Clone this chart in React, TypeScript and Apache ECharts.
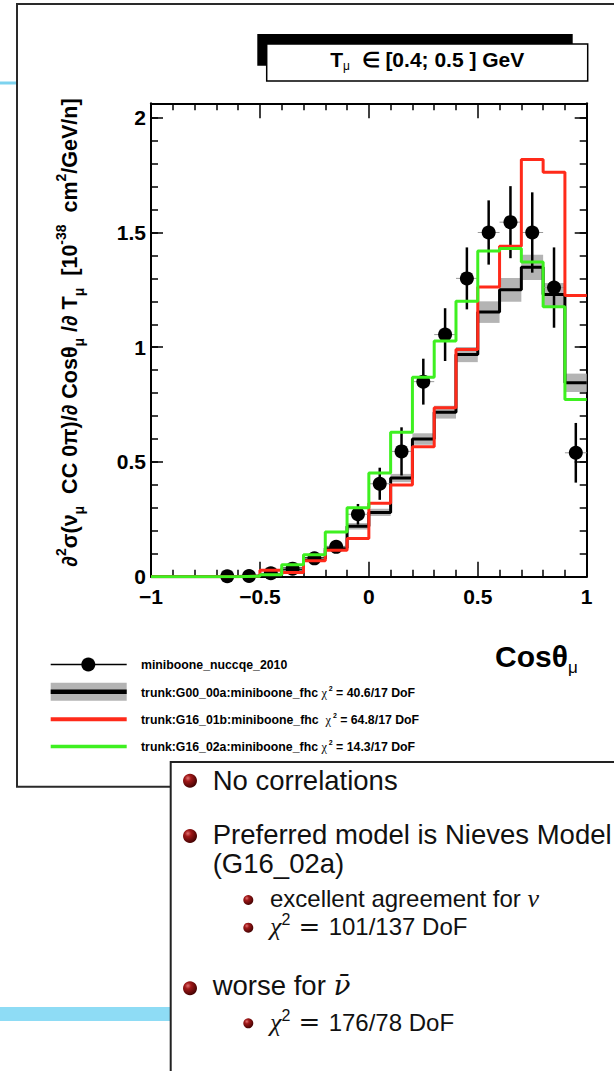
import React, { useEffect, useRef } from 'react';
import * as echarts from 'echarts';

// ---------- data ----------
const binEdges = [-1.0, -0.9, -0.8, -0.7, -0.6, -0.5, -0.4, -0.3, -0.2, -0.1, 0.0, 0.1, 0.2, 0.3, 0.4, 0.5, 0.6, 0.7, 0.8, 0.9, 1.0];

// G00_00a (black, with grey error band)
const g00Values = [0, 0, 0, 0.001, 0.003, 0.01, 0.034, 0.078, 0.125, 0.22, 0.28, 0.43, 0.6, 0.717, 0.968, 1.153, 1.25, 1.348, 1.23, 0.845];
const g00Errors = [0, 0, 0, 0.001, 0.002, 0.004, 0.006, 0.008, 0.01, 0.014, 0.016, 0.018, 0.025, 0.028, 0.033, 0.047, 0.052, 0.055, 0.05, 0.04];
// G16_01b (red)
const g1601bValues = [0, 0, 0, 0, 0.003, 0.028, 0.018, 0.07, 0.115, 0.167, 0.32, 0.4, 0.566, 0.736, 0.99, 1.263, 1.44, 1.818, 1.763, 1.225];
// G16_02a (green)
const g1602aValues = [0, 0, 0, 0, 0.002, 0.008, 0.052, 0.096, 0.195, 0.3, 0.452, 0.629, 0.869, 1.027, 1.2, 1.419, 1.43, 1.371, 1.176, 0.772];

// miniboone_nuccqe_2010 data
const dataX = [-0.65, -0.55, -0.45, -0.35, -0.25, -0.15, -0.05, 0.05, 0.15, 0.25, 0.35, 0.45, 0.55, 0.65, 0.75, 0.85, 0.95];
const dataY = [0.002, 0.003, 0.015, 0.035, 0.08, 0.13, 0.272, 0.405, 0.546, 0.85, 1.055, 1.3, 1.5, 1.545, 1.5, 1.26, 0.54];
const dataErr = [0.003, 0.004, 0.006, 0.01, 0.015, 0.02, 0.045, 0.07, 0.105, 0.1, 0.115, 0.135, 0.14, 0.157, 0.175, 0.175, 0.13];
const DATA_HALF_BIN = 0.05;

const xTickLabels = ['−1', '−0.5', '0', '0.5', '1'];
const yTickLabels = ['0', '0.5', '1', '1.5', '2'];

const SANS = '"Liberation Sans", Arial, Helvetica, sans-serif';
const SERIF = '"Liberation Serif", "DejaVu Serif", serif';

function stepData(vals: number[]) {
  const pts: number[][] = vals.map((v, i) => [binEdges[i], v]);
  pts.push([binEdges[binEdges.length - 1], vals[vals.length - 1]]);
  return pts;
}

function bullet(cx: number, cy: number, r: number) {
  return {
    type: 'circle',
    shape: { cx, cy, r },
    style: {
      fill: new echarts.graphic.RadialGradient(0.35, 0.32, 0.75, [
        { offset: 0, color: '#e07070' },
        { offset: 0.3, color: '#a01818' },
        { offset: 1, color: '#3a0000' },
      ]),
    },
  };
}

function buildOption() {
  const axisCommon = (extra: any) => ({
    type: 'value',
    axisLine: { show: true, onZero: false, lineStyle: { color: '#000', width: 2 } },
    splitLine: { show: false },
    minorSplitLine: { show: false },
    ...extra,
  });

  const xLabelFmt = (v: number) => {
    const idx = Math.round((v + 1) / 0.5);
    if (Math.abs(v + 1 - idx * 0.5) > 1e-6) return '';
    return xTickLabels[idx] ?? '';
  };
  const yLabelFmt = (v: number) => {
    const idx = Math.round(v / 0.5);
    if (Math.abs(v - idx * 0.5) > 1e-6) return '';
    return yTickLabels[idx] ?? '';
  };

  const YMAX = 2.063;

  const labelFont = { fontSize: 21, fontWeight: 'bold', color: '#000', fontFamily: SANS };

  const option: any = {
    animation: false,
    backgroundColor: '#ffffff',
    grid: { left: 151, top: 103.3, width: 435.7, height: 473.4, show: false },
    xAxis: [
      axisCommon({
        position: 'bottom', min: -1, max: 1, interval: 0.5,
        axisTick: { show: true, inside: true, length: 15, lineStyle: { color: '#000', width: 1.5 } },
        minorTick: { show: true, splitNumber: 5, length: 7, lineStyle: { color: '#000', width: 1.5 } },
        axisLabel: { show: true, margin: 9, showMinLabel: true, showMaxLabel: true, formatter: xLabelFmt, ...labelFont },
      }),
      axisCommon({
        position: 'top', min: -1, max: 1, interval: 0.5,
        axisTick: { show: true, inside: true, length: 15, lineStyle: { color: '#000', width: 1.5 } },
        minorTick: { show: true, splitNumber: 5, length: 7, lineStyle: { color: '#000', width: 1.5 } },
        axisLabel: { show: false },
      }),
    ],
    yAxis: [
      axisCommon({
        position: 'left', min: 0, max: YMAX, interval: 0.5,
        axisTick: { show: true, inside: true, length: 12, lineStyle: { color: '#000', width: 1.5 } },
        axisLabel: { show: true, margin: 5, formatter: yLabelFmt, ...labelFont },
      }),
      axisCommon({
        position: 'left', min: 0, max: YMAX, interval: 0.1,
        axisLine: { show: false, onZero: false },
        axisTick: { show: true, inside: true, length: 7, lineStyle: { color: '#000', width: 1.5 } },
        axisLabel: { show: false },
      }),
      axisCommon({
        position: 'right', min: 0, max: YMAX, interval: 0.5,
        axisTick: { show: true, inside: true, length: 12, lineStyle: { color: '#000', width: 1.5 } },
        axisLabel: { show: false },
      }),
      axisCommon({
        position: 'right', min: 0, max: YMAX, interval: 0.1,
        axisLine: { show: false, onZero: false },
        axisTick: { show: true, inside: true, length: 7, lineStyle: { color: '#000', width: 1.5 } },
        axisLabel: { show: false },
      }),
    ],
    series: [
      {
        name: 'G00 band',
        type: 'custom',
        z: 1,
        clip: true,
        data: g00Values.map((v, i) => [binEdges[i], binEdges[i + 1], v - g00Errors[i], v + g00Errors[i]]),
        encode: { x: [0, 1], y: [2, 3] },
        renderItem: (params: any, api: any) => {
          const p1 = api.coord([api.value(0), api.value(3)]);
          const p2 = api.coord([api.value(1), api.value(2)]);
          return {
            type: 'rect',
            shape: { x: p1[0], y: p1[1], width: p2[0] - p1[0], height: p2[1] - p1[1] },
            style: { fill: '#b4b4b4' },
          };
        },
      },
      {
        name: 'trunk:G00_00a:miniboone_fhc',
        type: 'line',
        step: 'end',
        z: 2,
        symbol: 'none',
        data: stepData(g00Values),
        lineStyle: { color: '#000', width: 3 },
      },
      {
        name: 'data errors',
        type: 'custom',
        z: 3,
        clip: false,
        data: dataX.map((x, i) => [x, dataY[i], dataErr[i], x - DATA_HALF_BIN, x + DATA_HALF_BIN]),
        encode: { x: 0, y: 1 },
        renderItem: (params: any, api: any) => {
          const x = api.value(0), y = api.value(1), e = api.value(2);
          const top = api.coord([x, y + e]);
          const bot = api.coord([x, Math.max(0, y - e)]);
          const l = api.coord([api.value(3), y]);
          const r = api.coord([api.value(4), y]);
          return {
            type: 'group',
            children: [
              { type: 'line', shape: { x1: l[0], y1: l[1], x2: r[0], y2: r[1] }, style: { stroke: '#999', lineWidth: 1 } },
              { type: 'line', shape: { x1: top[0], y1: top[1], x2: bot[0], y2: bot[1] }, style: { stroke: '#000', lineWidth: 2.5 } },
            ],
          };
        },
      },
      {
        name: 'miniboone_nuccqe_2010',
        type: 'scatter',
        z: 4,
        clip: false,
        symbol: 'circle',
        symbolSize: 14,
        itemStyle: { color: '#000', opacity: 1 },
        data: dataX.map((x, i) => [x, dataY[i]]),
      },
      {
        name: 'trunk:G16_01b:miniboone_fhc',
        type: 'line',
        step: 'end',
        z: 5,
        symbol: 'none',
        data: stepData(g1601bValues),
        lineStyle: { color: '#ff2a1a', width: 3 },
      },
      {
        name: 'trunk:G16_02a:miniboone_fhc',
        type: 'line',
        step: 'end',
        z: 6,
        symbol: 'none',
        data: stepData(g1602aValues),
        lineStyle: { color: '#3ef020', width: 3 },
      },
    ],
    graphic: [] as any[],
  };

  const g: any[] = [];
  // slide decorations
  g.push({ type: 'line', shape: { x1: 0, y1: 83, x2: 17, y2: 83 }, style: { stroke: '#7dd3ef', lineWidth: 3 } });
  g.push({ type: 'rect', shape: { x: 17, y: 4, width: 640, height: 782.7 }, style: { fill: 'transparent', stroke: '#2a2a2a', lineWidth: 2 } });
  g.push({ type: 'rect', shape: { x: 0, y: 1007, width: 171, height: 14 }, style: { fill: '#8edcf5' } });
  g.push({ type: 'rect', shape: { x: 170.7, y: 762, width: 460, height: 330 }, style: { fill: '#ffffff', stroke: '#222', lineWidth: 2 } });

  // title box
  g.push({ type: 'rect', shape: { x: 257.3, y: 34, width: 315.4, height: 31.7 }, style: { fill: '#000' } });
  g.push({ type: 'rect', shape: { x: 266.7, y: 44, width: 321, height: 37 }, style: { fill: '#fff', stroke: '#000', lineWidth: 1.5 } });
  g.push({
    type: 'text', x: 427.2, y: 59.5,
    style: {
      text: '{m|T}{s|μ}{m|  ∈ [0.4; 0.5 ] GeV}',
      align: 'center', verticalAlign: 'middle',
      rich: {
        m: { fontSize: 21, fontWeight: 'bold', fontFamily: SANS, fill: '#000', lineHeight: 24 },
        s: { fontSize: 12, fontFamily: SANS, fill: '#000', lineHeight: 12, verticalAlign: 'bottom' },
      },
    },
  });

  // y-axis title
  g.push({
    type: 'text', x: 70, y: 332.5, rotation: Math.PI / 2,
    style: {
      text: '{m|∂}{p|2}{m|σ(ν}{b|μ}{m|  CC 0π)/∂ Cosθ}{b|μ}{m| /∂ T}{b|μ}{m|  [10}{p|-38}{m|  cm}{p|2}{m|/GeV/n]}',
      align: 'center', verticalAlign: 'middle',
      rich: {
        m: { fontSize: 21.5, fontWeight: 'bold', fontFamily: SANS, fill: '#000', lineHeight: 32 },
        b: { fontSize: 14, fontWeight: 'bold', fontFamily: SANS, fill: '#000', lineHeight: 10, verticalAlign: 'bottom' },
        p: { fontSize: 14, fontWeight: 'bold', fontFamily: SANS, fill: '#000', lineHeight: 10, verticalAlign: 'top' },
      },
    },
  });

  // x-axis title
  g.push({
    type: 'text', x: 495, y: 656,
    style: {
      text: '{m|Cosθ}{s|μ}',
      align: 'left', verticalAlign: 'middle',
      rich: {
        m: { fontSize: 30, fontWeight: 'bold', fontFamily: SANS, fill: '#000', lineHeight: 40 },
        s: { fontSize: 17, fontFamily: SANS, fill: '#000', lineHeight: 10, verticalAlign: 'bottom' },
      },
    },
  });

  // legend
  const legRich = {
    t: { fontSize: 12.3, fontWeight: 'bold', fontFamily: SANS, fill: '#000', lineHeight: 16 },
    c: { fontSize: 12.3, fontFamily: SERIF, fill: '#000', lineHeight: 16 },
    s: { fontSize: 7, fontWeight: 'bold', fontFamily: SANS, fill: '#000', lineHeight: 8, verticalAlign: 'top' },
  };
  const lx1 = 50.7, lx2 = 126.7, ltx = 141;
  // row 1: data
  g.push({ type: 'line', shape: { x1: lx1, y1: 664.5, x2: lx2, y2: 664.5 }, style: { stroke: '#000', lineWidth: 1.5 } });
  g.push({ type: 'circle', shape: { cx: 88.3, cy: 664.5, r: 7 }, style: { fill: '#000' } });
  g.push({ type: 'text', x: ltx, y: 665, style: { text: '{t|miniboone_nuccqe_2010}', verticalAlign: 'middle', rich: legRich } });
  // row 2: G00
  g.push({ type: 'rect', shape: { x: lx1, y: 682.7, width: lx2 - lx1, height: 18 }, style: { fill: '#b4b4b4' } });
  g.push({ type: 'line', shape: { x1: lx1, y1: 691.7, x2: lx2, y2: 691.7 }, style: { stroke: '#000', lineWidth: 4.5 } });
  g.push({ type: 'text', x: ltx, y: 692.5, style: { text: '{t|trunk:G00_00a:miniboone_fhc }{c|χ}{s| 2}{t| = 40.6/17 DoF}', verticalAlign: 'middle', rich: legRich } });
  // row 3: G16_01b
  g.push({ type: 'line', shape: { x1: lx1, y1: 719.3, x2: lx2, y2: 719.3 }, style: { stroke: '#ff2a1a', lineWidth: 4 } });
  g.push({ type: 'text', x: ltx, y: 720, style: { text: '{t|trunk:G16_01b:miniboone_fhc  }{c|χ}{s| 2}{t| = 64.8/17 DoF}', verticalAlign: 'middle', rich: legRich } });
  // row 4: G16_02a
  g.push({ type: 'line', shape: { x1: lx1, y1: 746.5, x2: lx2, y2: 746.5 }, style: { stroke: '#3ef020', lineWidth: 3.5 } });
  g.push({ type: 'text', x: ltx, y: 746.7, style: { text: '{t|trunk:G16_02a:miniboone_fhc }{c|χ}{s| 2}{t| = 14.3/17 DoF}', verticalAlign: 'middle', rich: legRich } });

  // bullet text box
  const bigRich = {
    t: { fontSize: 27.5, fontFamily: SANS, fill: '#111', lineHeight: 32 },
    i: { fontSize: 28, fontFamily: '"DejaVu Serif", serif', fontStyle: 'italic', fill: '#111', lineHeight: 32 },
  };
  const subRich = {
    t: { fontSize: 24, fontFamily: SANS, fill: '#111', lineHeight: 30 },
    i: { fontSize: 26, fontFamily: SERIF, fontStyle: 'italic', fill: '#111', lineHeight: 30 },
    e: { fontSize: 26, fontFamily: '"DejaVu Serif", serif', fill: '#111', lineHeight: 30 },
    p: { fontSize: 16, fontFamily: SANS, fill: '#111', lineHeight: 14, verticalAlign: 'top' },
  };
  g.push(bullet(190, 780.7, 7));
  g.push({ type: 'text', x: 212.7, y: 780, style: { text: '{t|No correlations}', verticalAlign: 'middle', rich: bigRich } });
  g.push(bullet(190, 836, 7));
  g.push({ type: 'text', x: 212.7, y: 834.5, style: { text: '{t|Preferred model is Nieves Model}', verticalAlign: 'middle', rich: bigRich } });
  g.push({ type: 'text', x: 212.7, y: 863.8, style: { text: '{t|(G16_02a)}', verticalAlign: 'middle', rich: bigRich } });
  g.push(bullet(248.3, 900, 5));
  g.push({ type: 'text', x: 270, y: 898.4, style: { text: '{t|excellent agreement for }{i|ν}', verticalAlign: 'middle', rich: subRich } });
  g.push(bullet(248.3, 927.7, 5));
  g.push({ type: 'text', x: 270, y: 926.7, style: { text: '{i|χ}{p|2}{e| = }{t|101/137 DoF}', verticalAlign: 'middle', rich: subRich } });
  g.push(bullet(190, 988.3, 7));
  g.push({ type: 'text', x: 212.7, y: 985.5, style: { text: '{t|worse for }{i|ν̄}', verticalAlign: 'middle', rich: bigRich } });
  g.push(bullet(248.3, 1023.3, 5));
  g.push({ type: 'text', x: 270, y: 1022.4, style: { text: '{i|χ}{p|2}{e| = }{t|176/78 DoF}', verticalAlign: 'middle', rich: subRich } });

  option.graphic = g;
  return option;
}

export default function App() {
  const ref = useRef<HTMLDivElement>(null);
  useEffect(() => {
    if (!ref.current) return;
    const chart = echarts.init(ref.current, null, { renderer: 'svg' });
    chart.setOption(buildOption());
    return () => chart.dispose();
  }, []);
  return (
    <div
      ref={ref}
      style={{ position: 'absolute', left: 0, top: 0, width: 614, height: 1071, background: '#fff' }}
    />
  );
}
